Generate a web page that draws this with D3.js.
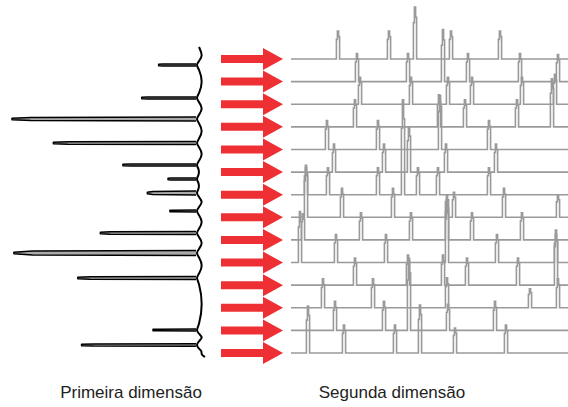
<!DOCTYPE html>
<html lang="pt">
<head>
<meta charset="UTF-8">
<title>Primeira e segunda dimensão</title>
<script src="https://d3js.org/d3.v7.min.js"></script>
<style>
  body { margin: 0; background: #fff; }
  .label { font-family: "Liberation Sans", Arial, sans-serif; font-size: 17px; fill: #222; }
</style>
</head>
<body>
<svg id="chart"></svg>
<script>
const width = 568, height = 407;

// primeira dimensão: tempo (min), sinal (%), largura do pico (min)
const firstDimTime   = [3.6, 10.2, 14.4, 19.2, 23.6, 26.4, 29.2, 32.8, 37.2, 41.2, 46.2, 56.6, 59.6];
const firstDimSignal = [22, 31, 100, 78, 41, 17, 28, 16, 53, 99, 65, 25, 63];
const firstDimWidth  = [0.22, 0.22, 0.4, 0.3, 0.22, 0.22, 0.4, 0.18, 0.32, 0.5, 0.32, 0.18, 0.25];

// segunda dimensão: uma lista por fração (tempo em s, sinal)
const secondDimTime = [
  [0.47, 0.98, 1.24, 1.60, 2.09],
  [0.66, 1.17, 1.52, 1.77, 2.29, 2.67],
  [0.69, 1.20, 1.57, 1.81, 2.31, 2.64],
  [0.64, 1.48, 1.74, 2.26, 2.61],
  [0.36, 0.87, 1.49, 1.98],
  [0.43, 0.93, 1.18, 1.55, 2.05],
  [0.15, 0.37, 0.87, 1.12, 1.27, 1.47, 1.98],
  [0.15, 0.51, 1.02, 1.56, 1.63, 2.13, 2.67],
  [0.12, 0.70, 1.20, 1.56, 1.81, 2.31],
  [0.09, 0.45, 0.95, 1.56, 2.06, 2.65],
  [0.64, 1.17, 1.52, 1.76, 2.27, 2.65],
  [0.32, 0.82, 1.56, 2.39, 2.67],
  [0.44, 0.93, 1.18, 1.57, 2.04],
  [0.17, 0.53, 1.04, 1.29, 1.64, 2.15]
];
const secondDimSignal = [
  [28, 28, 52, 28, 28],
  [28, 28, 52, 28, 28, 27],
  [27, 27, 27, 27, 27, 30],
  [27, 32, 27, 27, 48],
  [29, 29, 54, 29],
  [28, 28, 45, 28, 28],
  [27, 27, 27, 95, 27, 27, 27],
  [52, 29, 29, 22, 25, 29, 22],
  [26, 27, 27, 40, 27, 27],
  [51, 28, 28, 62, 28, 28],
  [27, 30, 30, 27, 27, 55],
  [29, 29, 30, 19, 29],
  [29, 29, 72, 26, 29],
  [47, 28, 28, 48, 25, 28]
];

const axisLabels = ["Primeira dimensão", "Segunda dimensão"];

const svg = d3.select("#chart")
  .attr("width", width)
  .attr("height", height);

// escalas
const y1 = d3.scaleLinear().domain([0, 62]).range([47, 357]);
const x1 = d3.scaleLinear().domain([0, 100]).range([200, 12]);
const fraction = d3.scaleLinear().domain([0, 13]).range([59, 353]);
const x2 = d3.scaleLinear().domain([0, 2.77]).range([291, 568]);
const h2 = d3.scaleLinear().domain([0, 100]).range([0, 100]);

// linha de base da primeira dimensão
const base = x1(0);
const basePts = [[base - 1, y1(0)]];
firstDimTime.forEach((t, i) => {
  const prev = i === 0 ? 0 : firstDimTime[i - 1];
  const yMid = (y1(prev) + y1(t)) / 2;
  if (y1(t) - y1(prev) > 14) basePts.push([base + 3, yMid]);
  basePts.push([base - 1, y1(t) - 4]);
  basePts.push([base - 4, y1(t)]);
  basePts.push([base - 1, y1(t) + 4]);
});
basePts.push([base + 2, y1(59.6) + 6]);
basePts.push([base + 1, y1(61.5)]);
basePts.push([base + 5, y1(62)]);

svg.append("path")
  .attr("d", d3.line().curve(d3.curveBasis)(basePts))
  .attr("fill", "none")
  .attr("stroke", "#000")
  .attr("stroke-width", 2);

// picos da primeira dimensão
svg.append("g")
  .selectAll("path")
  .data(firstDimTime.map((t, i) => ({ t, s: firstDimSignal[i], w: firstDimWidth[i] })))
  .join("path")
  .attr("d", d => {
    const yc = y1(d.t), half = y1(d.t + d.w) - y1(d.t);
    const tip = x1(d.s), taper = x1(d.s * 0.9);
    return d3.line()([
      [base - 4, yc - half], [taper, yc - half * 0.8], [tip, yc - 0.7],
      [tip, yc + 0.7], [taper, yc + half * 0.8], [base - 4, yc + half]
    ]);
  })
  .attr("fill", "#aaa")
  .attr("stroke", "#000")
  .attr("stroke-width", 1.5)
  .attr("stroke-linejoin", "round");

// setas
svg.append("g")
  .selectAll("path")
  .data(d3.range(14))
  .join("path")
  .attr("d", i => {
    const yc = fraction(i);
    return d3.line()([
      [221, yc - 4], [263, yc - 4], [263, yc - 11], [283, yc],
      [263, yc + 11], [263, yc + 4], [221, yc + 4]
    ]) + "Z";
  })
  .attr("fill", "#ee3034");

// cromatogramas da segunda dimensão
svg.append("g")
  .selectAll("path")
  .data(secondDimTime.map((times, i) => ({ i, times, sig: secondDimSignal[i] })))
  .join("path")
  .attr("d", d => {
    const y0 = fraction(d.i);
    const pts = [[x2(0), y0]];
    d.times.forEach((t, k) => {
      const x = x2(t), h = h2(d.sig[k]);
      pts.push([x - 1.6, y0], [x - 1.6, y0 - h * 0.7], [x - 0.6, y0 - h * 0.7],
               [x - 0.6, y0 - h], [x + 0.6, y0 - h], [x + 0.6, y0 - h * 0.8],
               [x + 1.6, y0 - h * 0.8], [x + 1.6, y0]);
    });
    pts.push([x2(2.77), y0]);
    return d3.line()(pts);
  })
  .attr("fill", "none")
  .attr("stroke", "#9a9a9a")
  .attr("stroke-width", 1.6);

// rótulos
svg.selectAll("text.label")
  .data(axisLabels)
  .join("text")
  .attr("class", "label")
  .attr("x", (d, i) => i === 0 ? 131 : 392)
  .attr("y", 398)
  .attr("text-anchor", "middle")
  .text(d => d);
</script>
</body>
</html>
